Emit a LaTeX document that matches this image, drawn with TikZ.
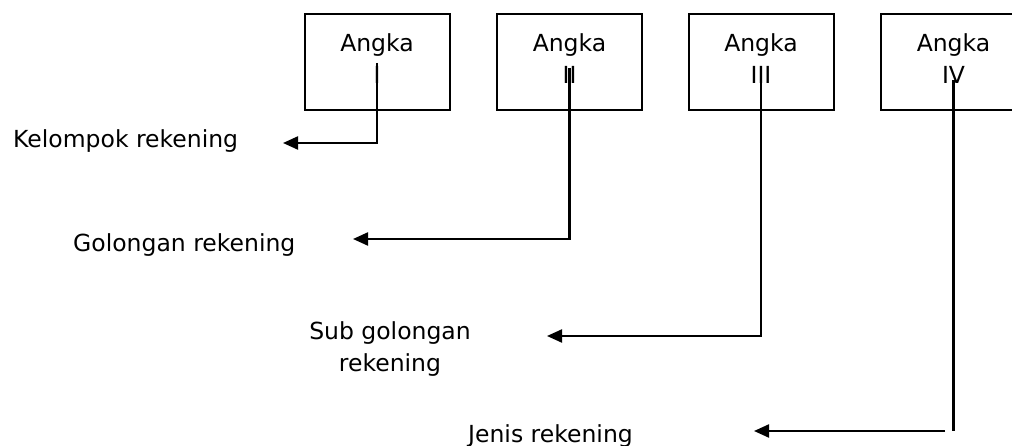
\documentclass[tikz,border=0pt]{standalone}
\usepackage{fontspec}
\setmainfont{DejaVu Sans}
\usetikzlibrary{calc,arrows.meta}
\begin{document}
\begin{tikzpicture}[x=1pt,y=-1pt,
  every node/.style={font=\fontsize{23.5}{32}\selectfont},
  digitbox/.style={draw,line width=2pt,minimum width=145pt,minimum height=96pt,inner sep=0pt},
  boxtext/.style={anchor=north,align=center,inner sep=0pt},
  lbl/.style={inner sep=0pt},
  conn/.style={line width=2.2pt,-{Triangle[length=15pt,width=13pt]}},
  plain/.style={line width=2.2pt}]
\useasboundingbox (0,0) rectangle (1012,446);
\clip (0,0) rectangle (1012,446);
\fill[white] (0,0) rectangle (1012,446);

% the four digit boxes
\node[digitbox] (b1) at (377,62) {};
\node[digitbox] (b2) at (569.5,62) {};
\node[digitbox] (b3) at (761,62) {};
\node[digitbox] (b4) at (953.5,62) {};
\node[boxtext] (a1) at (377,33) {Angka\\I};
\node[boxtext] (a2) at (569.5,33) {Angka\\II};
\node[boxtext] (a3) at (761,33) {Angka\\III};
\node[boxtext] (a4) at (953.5,33) {Angka\\IV};

% account-level labels
\node[lbl,anchor=base west] (k1) at (13,148) {Kelompok rekening};
\node[lbl,anchor=base west] (k2) at (73,252) {Golongan rekening};
\node[lbl,anchor=north,align=center] (k3) at (390,321) {Sub golongan\\rekening};
\node[lbl,anchor=base west] (k4) at (468,442) {Jenis rekening};

% connector end points
\coordinate (s1) at ($(b1.center)+(0,1)$);
\coordinate (s2) at ($(b2.center)+(0,6)$);
\coordinate (s3) at ($(b3.center)+(0,18)$);
\coordinate (s4) at ($(b4.center)+(0,18)$);
\coordinate (t1) at (283,143);
\coordinate (t2) at (353,239);
\coordinate (t3) at (547,336);
\coordinate (c4) at (b4.center |- 0,431);
\coordinate (h4) at (945,431);
\coordinate (t4) at (754,431);

\draw[conn] (s1) |- (t1);
\draw[conn] (s2) |- (t2);
\draw[conn] (s3) |- (t3);
\draw[plain] (s4) -- (c4);
\draw[conn] (h4) -- (t4);
\end{tikzpicture}
\end{document}
